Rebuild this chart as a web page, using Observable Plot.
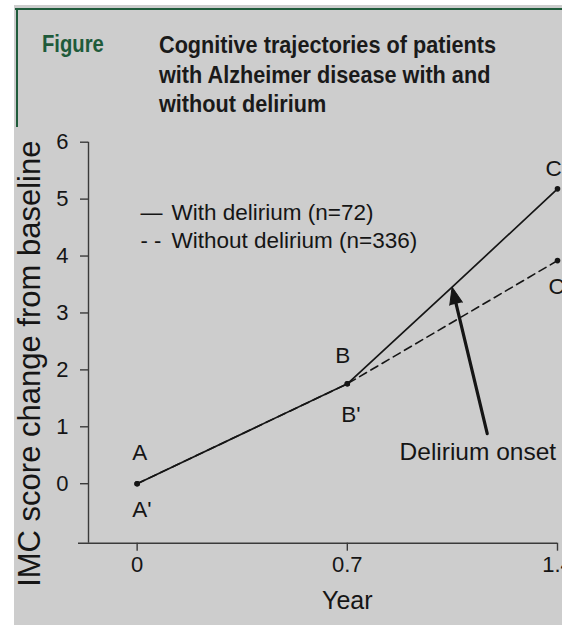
<!DOCTYPE html>
<html>
<head>
<meta charset="utf-8">
<script src="https://cdn.jsdelivr.net/npm/d3@7"></script>
<script src="https://cdn.jsdelivr.net/npm/@observablehq/plot@0.6"></script>
<style>
html, body { margin: 0; padding: 0; background: #ffffff; }
body { width: 562px; height: 625px; position: relative; overflow: hidden; font-family: "Liberation Sans", Arial, sans-serif; }
#panel { position: absolute; left: 14px; top: 5px; width: 548px; height: 620px; background: #cdcdcd; }
#topline { position: absolute; left: 15px; top: 7.5px; width: 547px; height: 2px; background: #1f5b3b; }
#sideline { position: absolute; left: 15.5px; top: 8px; width: 2px; height: 119px; background: #1f5b3b; }
#fig { position: absolute; left: 42px; top: 30.25px; font-weight: bold; font-size: 23px; line-height: 29.5px; color: #1f5b3b; transform: scaleX(0.88); transform-origin: left top; }
#title { position: absolute; left: 159px; top: 30.25px; font-weight: bold; font-size: 24.5px; line-height: 29.5px; color: #1a1a1a; white-space: nowrap; transform: scaleX(0.884); transform-origin: left top; }
#chart { position: absolute; left: 0; top: 128px; }
#chart g[aria-label$="tick label"], #chart g[aria-label$="tick label"] text { font-size: 22px !important; }
</style>
</head>
<body>
<div id="panel"></div>
<div id="topline"></div>
<div id="sideline"></div>
<div id="fig">Figure</div>
<div id="title">Cognitive trajectories of patients<br>with Alzheimer disease with and<br>without delirium</div>
<div id="chart"></div>
<script>
// ---- data ----
const years = [0, 0.7, 1.4];
const withDelirium = [0, 1.755, 5.18];
const withoutDelirium = [0, 1.755, 3.92];
const onsetYear = 1.049;
const onsetScore = 3.453;
const pointLabels = ["A", "B", "C"];
const primeLabels = ["A'", "B'", "C'"];
const seriesNames = ["With delirium (n=72)", "Without delirium (n=336)"];
const legendGlyphs = ["\u2014", "- -"];
const xTicks = [0, 0.7, 1.4];
const yTicks = [0, 1, 2, 3, 4, 5, 6];
const xTitle = "Year";
const yTitle = "IMC score change from baseline";
const onsetText = "Delirium onset";

// ---- layout ----
const W = 562, H = 497;
const mLeft = 88, mRight = 5, mTop = 13.7, mBottom = 82.3;
const xMin = -0.162, xMax = 1.4, yMin = -1.045, yMax = 6;
const kx = (W - mLeft - mRight) / (xMax - xMin);
const ky = (H - mTop - mBottom) / (yMax - yMin);
const xAxisStart = xMin - 10 / kx;

const solid = [
  {year: years[0], score: withDelirium[0]},
  {year: years[1], score: withDelirium[1]},
  {year: onsetYear, score: onsetScore},
  {year: years[2], score: withDelirium[2]}
];
const dashed = years.map((y, i) => ({year: y, score: withoutDelirium[i]}));
const dots = [
  ...years.map((y, i) => ({year: y, score: withDelirium[i]})),
  ...dashed
];

// annotation placement
const labelDx = [-5, -12, -12], labelDy = [-31, -28, -20];
const primeDx = [-5, -6, -9], primeDy = [26, 31, 26];
const legendPos = {x: 0.011, y: [4.765, 4.273], textX: 0.1144};
const onsetTextPos = {x: 0.874, y: 0.56};
const arrowTail = {year: 1.166, score: 0.88};
const angle = Math.atan2((onsetYear - arrowTail.year) * kx, (onsetScore - arrowTail.score) * ky) * 180 / Math.PI;

const ink = "#151515";
const font = "'Liberation Sans', Arial, Helvetica, sans-serif";

const marks = [
  Plot.ruleY([yMin], {x1: xAxisStart, x2: xMax, stroke: "#3a3a3a", strokeWidth: 1.4}),
  Plot.ruleX([xMin], {y1: yMin, y2: yMax, stroke: "#3a3a3a", strokeWidth: 1.4}),
  Plot.axisY({ticks: yTicks, tickSize: 8, tickPadding: 12, fontSize: 22, label: null, tickFormat: d => String(d), stroke: "#3a3a3a", strokeWidth: 1.4, fill: ink}),
  Plot.axisX({ticks: xTicks, tickSize: 8, tickPadding: 5, fontSize: 22, label: null, tickFormat: d => String(d), stroke: "#3a3a3a", strokeWidth: 1.4, fill: ink}),
  Plot.text([xTitle], {x: xTicks[1], frameAnchor: "bottom", dy: 58, fontSize: 25, lineAnchor: "middle", fill: ink}),
  Plot.text([yTitle], {frameAnchor: "left", rotate: -90, dx: -49, dy: 21, fontSize: 31, textAnchor: "middle", lineAnchor: "bottom", fill: ink}),
  Plot.line(dashed, {x: "year", y: "score", stroke: ink, strokeWidth: 1.6, strokeDasharray: "8,5"}),
  Plot.line(solid, {x: "year", y: "score", stroke: ink, strokeWidth: 1.7}),
  Plot.dot(dots, {x: "year", y: "score", r: 2.8, fill: ink}),
  ...pointLabels.map((l, i) => Plot.text([l], {x: years[i], y: withDelirium[i], dx: labelDx[i], dy: labelDy[i], textAnchor: "start", fontSize: 22.5, fill: ink})),
  ...primeLabels.map((l, i) => Plot.text([l], {x: years[i], y: withoutDelirium[i], dx: primeDx[i], dy: primeDy[i], textAnchor: "start", fontSize: 22.5, fill: ink})),
  Plot.text(legendGlyphs, {x: legendPos.x, y: (d, i) => legendPos.y[i], textAnchor: "start", fontSize: 22, fill: ink}),
  Plot.text(seriesNames, {x: legendPos.textX, y: (d, i) => legendPos.y[i], textAnchor: "start", fontSize: 22.5, fill: ink}),
  Plot.text([onsetText], {x: onsetTextPos.x, y: onsetTextPos.y, textAnchor: "start", fontSize: 24.5, fill: ink}),
  Plot.arrow([0], {x1: arrowTail.year, y1: arrowTail.score, x2: onsetYear, y2: onsetScore, headLength: 0, insetEnd: 12, stroke: ink, strokeWidth: 3.2}),
  Plot.vector([0], {x: onsetYear, y: onsetScore, length: 17, rotate: angle, shape: "spike", anchor: "end", r: 6.5, fill: ink, stroke: ink, strokeWidth: 1})
];

const chart = Plot.plot({
  width: W, height: H,
  marginLeft: mLeft, marginRight: mRight, marginTop: mTop, marginBottom: mBottom,
  x: {domain: [xMin, xMax]},
  y: {domain: [yMin, yMax]},
  style: {background: "transparent", fontFamily: font, fontSize: "22px", color: ink, overflow: "visible"},
  marks
});
chart.querySelectorAll('g[aria-label$="tick label"]').forEach(g => g.setAttribute("font-size", "22"));
document.getElementById("chart").appendChild(chart);
</script>
</body>
</html>
